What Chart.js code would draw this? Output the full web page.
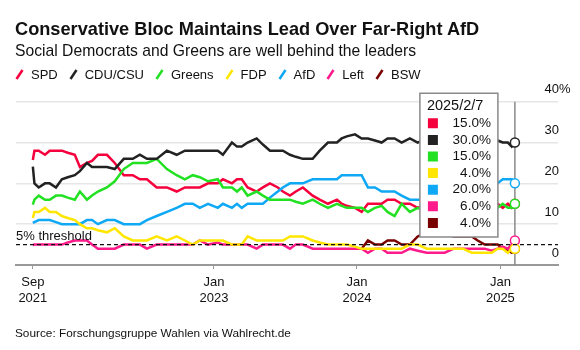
<!DOCTYPE html>
<html>
<head>
<meta charset="utf-8">
<script src="https://cdn.jsdelivr.net/npm/chart.js@4"></script>
<style>
  body { margin: 0; background: #fff; font-family: "Liberation Sans", Arial, sans-serif; color: #111; }
  #wrap { position: relative; width: 580px; height: 350px; overflow: hidden; }
  #chart { position: absolute; left: 0; top: 0; }
  .title { position: absolute; left: 15px; top: 19.7px; font-size: 18.2px; line-height: 18.2px; font-weight: bold; white-space: nowrap; }
  .sub { position: absolute; left: 15px; top: 43.4px; font-size: 15.7px; line-height: 15.7px; white-space: nowrap; }
  .legend { position: absolute; left: 15px; top: 68px; font-size: 13px; line-height: 13px; display: flex; white-space: nowrap; }
  .legend span.item { display: flex; align-items: center; margin-right: 11px; }
  .legend svg { margin-right: 7px; }
  .source { position: absolute; left: 15px; top: 327px; font-size: 11.8px; line-height: 12px; white-space: nowrap; }
</style>
</head>
<body>
<div id="wrap">
  <canvas id="chart" width="580" height="350"></canvas>
  <div class="title">Conservative Bloc Maintains Lead Over Far-Right AfD</div>
  <div class="sub">Social Democrats and Greens are well behind the leaders</div>
  <div class="legend" id="legend"></div>
  <div class="source">Source: Forschungsgruppe Wahlen via Wahlrecht.de</div>
</div>
<script>
// ===== Poll data (share of vote, %) =====
const dates = [
  "2021-09-26", "2021-09-30", "2021-10-11", "2021-10-27", "2021-11-08", "2021-11-24", "2021-12-09", "2021-12-24",
  "2022-01-11", "2022-01-24", "2022-02-11", "2022-02-24", "2022-03-11", "2022-04-03", "2022-04-23", "2022-05-16",
  "2022-06-08", "2022-06-26", "2022-07-14", "2022-08-08", "2022-09-03", "2022-09-28", "2022-10-19", "2022-11-08",
  "2022-11-26", "2022-12-17", "2023-01-11", "2023-01-24", "2023-02-16", "2023-03-01", "2023-03-13", "2023-03-28",
  "2023-04-20", "2023-05-06", "2023-05-24", "2023-06-13", "2023-06-26", "2023-07-14", "2023-07-29", "2023-08-16",
  "2023-09-10", "2023-09-28", "2023-10-19", "2023-11-11", "2023-11-23", "2023-12-06", "2023-12-27", "2024-01-13",
  "2024-01-29", "2024-02-16", "2024-03-04", "2024-03-19", "2024-04-06", "2024-04-24", "2024-05-15", "2024-06-04",
  "2024-06-27", "2024-07-20", "2024-08-12", "2024-09-04", "2024-09-27", "2024-10-20", "2024-11-04", "2024-11-22",
  "2024-12-10", "2024-12-25", "2025-01-07", "2025-01-20", "2025-01-30", "2025-02-07"
];
const spd = [
  25.7, 28, 28, 27, 28, 28, 28, 27.5,
  27, 24, 25, 25.5, 27, 27, 25, 22,
  22, 21, 21, 19, 19, 18, 19, 19,
  19, 20, 20, 21, 20, 21, 21, 19,
  18, 19, 20, 19, 18, 17, 18, 19,
  17, 16, 15, 16, 15, 14.5, 14, 13,
  15, 15, 15, 16, 16, 15, 15, 14,
  15, 14, 15, 15, 16, 16, 15, 15,
  15, 15, 14, 15, 14, 15
];
const cdu = [
  24.1, 20, 19, 20, 20, 19, 21, 21.5,
  22, 23, 25, 24, 24, 24, 23.5, 26,
  26, 27, 26, 26, 28, 27, 28, 28,
  28, 28, 28, 27, 30, 29, 29, 30,
  31, 29.5, 28, 28, 28, 27, 26.5, 26,
  26, 28, 30, 30, 31, 31.5, 32, 31,
  31, 30.5, 30, 31, 31, 30, 31, 30,
  31, 30, 31, 30, 31, 31, 32, 31,
  31, 30.5, 30, 30, 29, 30
];
const greens = [
  14.8, 16, 17, 16, 16, 17, 17, 16.5,
  16, 18, 16, 17, 18, 19, 20.5, 23.5,
  25, 25, 25, 26, 23.5, 22, 21, 22,
  21.5, 20.5, 21, 19, 19, 18, 19, 17,
  18, 17, 16, 16, 16, 16, 15.5, 15,
  16, 15, 14, 15, 14.5, 14, 14, 14,
  13, 14, 14.5, 13, 12, 15, 13, 14,
  13, 13, 12, 12, 11, 11, 12, 13,
  13, 14, 15, 14, 14, 15
];
const fdp = [
  11.5, 13, 13, 14, 13, 13, 12, 11.5,
  11, 10, 9, 9, 8.5, 8, 9, 7,
  6, 6, 6, 7, 6, 7, 6, 5,
  6, 6, 6, 6, 5, 5, 5, 7,
  6, 6, 6, 6, 6, 7, 7, 7,
  6, 5.5, 5, 5, 5, 5, 4.5, 4,
  4, 4, 4, 4, 4, 4, 5, 5,
  4, 4, 4, 4, 4, 3, 3, 3,
  3, 4, 4, 3, 4, 4
];
const afd = [
  10.3, 10.5, 11, 11, 11, 10.5, 10, 10,
  10, 10, 11, 11, 10, 11, 11, 10,
  10, 10, 11, 12, 13, 14, 15, 15,
  14, 15, 14, 15, 14, 15, 14, 15,
  15, 15, 16.5, 18, 19, 20, 20, 20,
  21, 21, 21, 21, 22, 22, 22, 22,
  19, 19, 18, 18, 18, 17, 16, 16,
  16, 17, 17, 17, 18, 17, 17, 18,
  19, 20, 21, 21, 21, 20
];
const left = [
  4.9, 5, 5, 5, 5, 5, 5, 5.5,
  6, 6, 6, 5, 4, 4, 4, 5,
  5, 5, 4, 5, 5, 5, 5, 5,
  6, 5, 5.5, 5, 5, 5, 5, 5,
  4, 5, 5, 5, 5, 4, 5, 5,
  4, 4, 4, 4, 4, 4, 4, 4,
  3, 4, 4, 3, 3, 3, 4, 3.5,
  3, 3, 3, 4, 4, 4, 4, 4,
  3.5, 4, 4.5, 4, 5, 6
];
// BSW only polled from its founding onwards
const bswStart = "2024-01-13";
const bsw = [
  4, 6, 5, 5, 6, 6, 5, 5, 7,
  8, 8, 8, 7, 7, 7, 6, 5,
  5, 5, 4, 3.5, 3, 4
];

const parties = ["SPD", "CDU/CSU", "Greens", "FDP", "AfD", "Left", "BSW"];
const colors = ["#f5003d", "#222222", "#22e022", "#ffe600", "#0fa8f5", "#ff1a8c", "#7a0000"];

const tickDates = ["2021-09-26", "2023-01-01", "2024-01-01", "2025-01-01"];
const tickLabels = [["Sep", "2021"], ["Jan", "2023"], ["Jan", "2024"], ["Jan", "2025"]];
const axisStart = "2021-08-14";
const axisEnd = "2025-05-28";
const yTicks = [0, 10, 20, 30, 40];
const threshold = 5;

const FONT = '"Liberation Sans", Arial, sans-serif';

// ===== Legend (slash markers) =====
const legendEl = document.getElementById("legend");
parties.forEach((name, i) => {
  const item = document.createElement("span");
  item.className = "item";
  item.innerHTML =
    '<svg width="9" height="11"><line x1="1.5" y1="10" x2="7.5" y2="1" stroke="' + colors[i] +
    '" stroke-width="2.5"/></svg>' + name;
  legendEl.appendChild(item);
});

// ===== Datasets =====
function toPoints(ds, vals) {
  return ds.map((d, i) => ({ x: Date.parse(d), y: vals[i] }));
}
const bswDates = dates.slice(dates.indexOf(bswStart));
const seriesValues = [spd, cdu, greens, fdp, afd, left];

const datasets = parties.map((name, i) => {
  const data = name === "BSW" ? toPoints(bswDates, bsw) : toPoints(dates, seriesValues[i]);
  return {
    label: name,
    data: data,
    borderColor: colors[i],
    backgroundColor: colors[i],
    borderWidth: 2.5,
    tension: 0,
    fill: false,
    pointRadius: c => (c.dataIndex === data.length - 1 ? 4.5 : 0),
    pointBackgroundColor: "#fff",
    pointBorderColor: colors[i],
    pointBorderWidth: 1.5,
    order: name === "SPD" ? 1 : 0
  };
});

// tooltip box sits left of the last poll date
Chart.Tooltip.positioners.pollBox = function (items) {
  if (!items.length) return false;
  return { x: items[0].element.x - 17, y: this.chart.chartArea.top - 8.5, xAlign: "right", yAlign: "top" };
};

function fmtDate(ms) {
  const d = new Date(ms);
  return d.getUTCFullYear() + "/" + (d.getUTCMonth() + 1) + "/" + d.getUTCDate();
}

// ===== Extras: latest-date rule, 5% threshold, right-side value labels =====
const extras = {
  id: "extras",
  beforeDatasetsDraw(chart) {
    const { ctx, chartArea: a, scales: { x } } = chart;
    const px = x.getPixelForValue(Date.parse(dates[dates.length - 1]));
    ctx.save();
    ctx.strokeStyle = "#8a8a8a";
    ctx.lineWidth = 1.5;
    ctx.beginPath();
    ctx.moveTo(px, a.top);
    ctx.lineTo(px, a.bottom);
    ctx.stroke();
    ctx.restore();
  },
  afterDatasetsDraw(chart) {
    const { ctx, chartArea: a, scales: { y } } = chart;
    const ty = y.getPixelForValue(threshold);
    ctx.save();
    ctx.strokeStyle = "#111";
    ctx.lineWidth = 1.2;
    ctx.setLineDash([4, 3]);
    ctx.beginPath();
    ctx.moveTo(a.left, ty);
    ctx.lineTo(a.right, ty);
    ctx.stroke();
    ctx.setLineDash([]);

    ctx.fillStyle = "#111";
    ctx.font = "13px " + FONT;
    ctx.textAlign = "left";
    ctx.textBaseline = "alphabetic";
    ctx.fillText(threshold + "% threshold", a.left, ty - 5);

    ctx.textBaseline = "middle";
    yTicks.forEach((v, i) => {
      const py = y.getPixelForValue(v) - 12;
      ctx.textAlign = "right";
      ctx.fillText(String(v), a.right + 1, py);
      if (i === yTicks.length - 1) {
        ctx.textAlign = "left";
        ctx.fillText("%", a.right + 1, py);
      }
    });
    ctx.restore();
  },
  beforeTooltipDraw(chart, args) {
    const t = args.tooltip;
    const minW = 78;
    if (t.width < minW) {
      t.x -= minW - t.width;
      t.width = minW;
    }
  }
};

const chart = new Chart(document.getElementById("chart").getContext("2d"), {
  type: "line",
  data: { datasets: datasets },
  options: {
    responsive: false,
    animation: false,
    events: [],
    layout: { padding: { left: 16, right: 22, top: 101.7, bottom: 45 } },
    scales: {
      x: {
        type: "linear",
        min: Date.parse(axisStart),
        max: Date.parse(axisEnd),
        afterBuildTicks: s => { s.ticks = tickDates.map(d => ({ value: Date.parse(d) })); },
        afterFit: s => { s.height = 40; },
        ticks: {
          autoSkip: false,
          maxRotation: 0,
          padding: 5,
          color: "#111",
          font: { family: FONT, size: 13, lineHeight: 1.25 },
          callback: (v, i) => tickLabels[i]
        },
        grid: { drawOnChartArea: false, drawTicks: true, tickLength: 4, tickColor: "#999", tickWidth: 1 },
        border: { display: true, color: "#999", width: 2 }
      },
      y: {
        position: "right",
        min: 0,
        max: 40,
        afterBuildTicks: s => { s.ticks = yTicks.map(v => ({ value: v })); },
        afterFit: s => { s.width = 0; },
        ticks: { display: false },
        grid: {
          drawTicks: false,
          lineWidth: 1.5,
          color: c => (c.tick && c.tick.value === 0 ? "rgba(0,0,0,0)" : "#e6e6e6")
        },
        border: { display: false }
      }
    },
    plugins: {
      legend: { display: false },
      tooltip: {
        enabled: true,
        position: "pollBox",
        animation: false,
        backgroundColor: "#fff",
        borderColor: "#8a8a8a",
        borderWidth: 1.5,
        cornerRadius: 0,
        caretSize: 0,
        caretPadding: 0,
        titleColor: "#111",
        bodyColor: "#111",
        titleFont: { family: FONT, size: 14.5, weight: "normal" },
        bodyFont: { family: FONT, size: 13.5 },
        titleMarginBottom: 0.8,
        bodySpacing: 0.4,
        padding: { top: 3.8, bottom: 5.9, left: 7, right: 7 },
        bodyAlign: "right",
        usePointStyle: true,
        boxWidth: 12,
        boxHeight: 12,
        boxPadding: 0,
        displayColors: true,
        callbacks: {
          title: items => fmtDate(items[0].raw.x),
          label: c => c.parsed.y.toFixed(1) + "%",
          labelColor: c => ({ borderColor: colors[c.datasetIndex], backgroundColor: colors[c.datasetIndex] }),
          labelPointStyle: () => ({ pointStyle: "rect", rotation: 0 })
        }
      }
    }
  },
  plugins: [extras]
});

chart.tooltip.setActiveElements(
  datasets.map((ds, i) => ({ datasetIndex: i, index: ds.data.length - 1 })),
  { x: 0, y: 0 }
);
chart.update();
</script>
</body>
</html>
